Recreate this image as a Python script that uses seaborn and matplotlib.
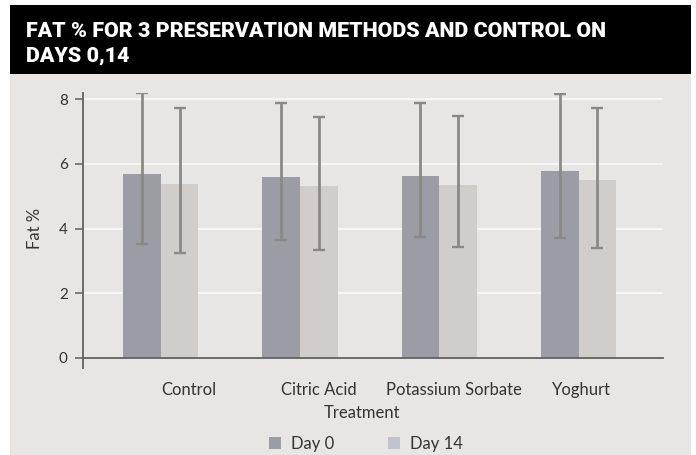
import matplotlib
matplotlib.use("Agg")
import matplotlib.pyplot as plt
import matplotlib.patches as mpatches
from matplotlib.transforms import ScaledTranslation
import numpy as np
import pandas as pd
import seaborn as sns

# ---- data ----
categories = ["Control", "Citric Acid", "Potassium Sorbate", "Yoghurt"]
days = ["Day 0", "Day 14"]
day0_mean = [5.69, 5.60, 5.63, 5.78]
day14_mean = [5.38, 5.32, 5.35, 5.50]
day0_low = [3.53, 3.64, 3.75, 3.72]
day0_high = [8.20, 7.90, 7.90, 8.17]
day14_low = [3.26, 3.33, 3.43, 3.40]
day14_high = [7.73, 7.46, 7.49, 7.73]
y_ticks = [0, 2, 4, 6, 8]

title_lines = ["FAT % FOR 3 PRESERVATION METHODS AND CONTROL ON", "DAYS 0,14"]
x_label = "Treatment"
y_label = "Fat %"

# ---- styling ----
bg = "#e7e6e4"
bar_colors = {"Day 0": "#9c9ca4", "Day 14": "#d0cdca"}
legend_colors = {"Day 0": "#9c9ca4", "Day 14": "#c2c2cf"}
err_color = "#8b8986"
text_color = "#333333"
spine_color = "#606060"
label_dx_px = [28, 19, 15, 3]

df = pd.DataFrame({
    "Treatment": categories * 2,
    "Day": [days[0]] * 4 + [days[1]] * 4,
    "Fat": day0_mean + day14_mean,
})

sns.set_theme(style="white")
plt.rcParams["font.family"] = ["Lato", "DejaVu Sans"]

W, H = 696, 455
fig = plt.figure(figsize=(W / 100, H / 100), dpi=100, facecolor="white")

# card background
fig.patches.append(mpatches.Rectangle((10 / W, 0), 681 / W, (H - 74) / H,
                                      transform=fig.transFigure, facecolor=bg,
                                      edgecolor="none", zorder=-10))
fig.patches.append(mpatches.Rectangle((10 / W, (H - 74) / H), 681 / W, 69 / H,
                                      transform=fig.transFigure, facecolor="black",
                                      edgecolor="none", zorder=-10))
for line, base in zip(title_lines, [37, 62]):
    fig.text(26 / W, (H - base) / H, line, color="white", fontsize=15.4,
             fontweight="black", family=["Roboto", "DejaVu Sans"],
             va="baseline", ha="left")

ax = fig.add_axes([83 / W, (H - 367.7) / H, 580 / W, 274.9 / H])
ax.set_facecolor("none")

sns.barplot(data=df, x="Treatment", y="Fat", hue="Day", order=categories,
            hue_order=days, palette=bar_colors, errorbar=None, width=0.54,
            gap=0, saturation=1, ax=ax, legend=False, zorder=2,
            edgecolor="none", linewidth=0)

lows = {"Day 0": day0_low, "Day 14": day14_low}
highs = {"Day 0": day0_high, "Day 14": day14_high}
means = {"Day 0": day0_mean, "Day 14": day14_mean}
for day, cont in zip(days, ax.containers):
    xs = [p.get_x() + p.get_width() / 2 for p in cont.patches]
    m = np.array(means[day])
    lo = m - np.array(lows[day])
    hi = np.array(highs[day]) - m
    ax.errorbar(xs, m, yerr=[lo, hi], fmt="none", ecolor=err_color,
                elinewidth=2.0, capsize=4.3, capthick=1.7, zorder=3)

ax.set_ylim(-0.3, 8.2)
ax.set_xlim(-0.558, 3.606)
ax.set_yticks(y_ticks)
ax.yaxis.grid(True, color="#f7f7f7", linewidth=1.3, zorder=0)
ax.set_axisbelow(True)

for s in ["top", "right"]:
    ax.spines[s].set_visible(False)
ax.spines["bottom"].set_position(("data", 0))
for s in ["left", "bottom"]:
    ax.spines[s].set_color(spine_color)
    ax.spines[s].set_linewidth(1.3)

ax.tick_params(axis="y", direction="out", length=6, width=1.1,
               color=spine_color, pad=5, labelsize=11, labelcolor=text_color,
               left=True)
ax.tick_params(axis="x", length=0, pad=17, labelsize=12, labelcolor=text_color)
for lab, dx in zip(ax.get_xticklabels(), label_dx_px):
    lab.set_transform(lab.get_transform() + ScaledTranslation(dx / 100, 0, fig.dpi_scale_trans))

ax.set_xlabel(x_label, fontsize=12, color=text_color)
ax.xaxis.label.set_va("center")
ax.xaxis.set_label_coords((362 - 83) / 580, (367.7 - 413) / 274.9)
ax.set_ylabel(y_label, fontsize=12, color=text_color)
ax.yaxis.label.set_va("center")
ax.yaxis.set_label_coords((35 - 83) / 580, (367.7 - 228) / 274.9)

handles = [mpatches.Patch(facecolor=legend_colors[d], edgecolor="none", label=d)
           for d in days]
fig.legend(handles=handles, loc="center", bbox_to_anchor=(366 / W, (H - 444) / H),
           ncol=2, frameon=False, fontsize=12, handlelength=0.75,
           handleheight=0.75, handletextpad=0.6, columnspacing=3.2,
           labelcolor=text_color)

fig.savefig("out.png", dpi=100, facecolor="white")
